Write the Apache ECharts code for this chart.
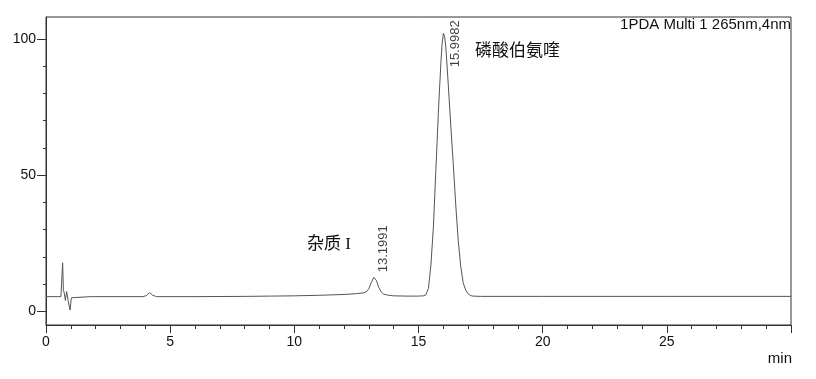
<!DOCTYPE html>
<html>
<head>
<meta charset="utf-8">
<script src="https://cdn.jsdelivr.net/npm/echarts@6/dist/echarts.min.js"></script>
<style>
html,body{margin:0;padding:0;background:#fff;}
#chart{width:816px;height:379px;}
</style>
</head>
<body>
<div id="chart"></div>
<script>
// ---- data ----
const times  = [0, 0.6, 0.64, 0.67, 0.7, 0.74, 0.78, 0.83, 0.9, 0.97, 1.02, 1.1, 1.8, 1.87, 1.92, 2.0, 3.9, 4.05, 4.17, 4.3, 4.45, 6, 8, 9, 10, 11, 12, 12.5, 12.8, 12.9, 13.0, 13.1, 13.2, 13.3, 13.4, 13.5, 13.6, 13.8, 14.0, 14.5, 15.0, 15.2, 15.3, 15.4, 15.5, 15.6, 15.7, 15.8, 15.9, 15.95, 16.0, 16.05, 16.1, 16.2, 16.3, 16.4, 16.5, 16.6, 16.7, 16.8, 16.9, 17.0, 17.1, 17.2, 17.5, 20, 25, 30];
const signal = [5.4, 5.4, 6.0, 17.8, 8.0, 6.5, 4.0, 7.3, 3.5, 0.5, 5.0, 5.4, 5.4, 5.9, 5.4, 5.4, 5.4, 5.8, 6.9, 5.9, 5.4, 5.4, 5.5, 5.6, 5.7, 5.9, 6.2, 6.5, 6.8, 7.2, 8.3, 10.6, 12.5, 11.4, 8.8, 7.1, 6.3, 5.9, 5.7, 5.6, 5.6, 5.7, 6.1, 8.5, 17, 31, 52, 73, 91, 98, 102, 101, 97, 83, 68, 54, 39, 26, 16.5, 10.5, 7.8, 6.4, 5.8, 5.6, 5.5, 5.5, 5.5, 5.5];
const peakTimes   = [13.1991, 15.9982];
const peakHeights = [12.5, 102];
const peakLabels  = ['13.1991', '15.9982'];
const xTicks      = [0, 5, 10, 15, 20, 25];
const yMajorTicks = [0, 50, 100];
const yMinorTicks = [10, 20, 30, 40, 60, 70, 80, 90];
const channelTitle = '1PDA Multi 1 265nm,4nm';
const peakNames   = ['杂质 I', '磷酸伯氨喹'];
const xUnit = 'min';

const chart = echarts.init(document.getElementById('chart'), null, {renderer: 'canvas'});
const lineData = times.map((t, i) => [t, signal[i]]);
const labelPos = [[11, -4], [13.5, 35]];
const peakData = peakTimes.map((t, i) => ({
  value: [t, peakHeights[i]],
  label: {position: labelPos[i]}
}));
const axisColor = '#333';
const textColor = '#111';
const font = '"Liberation Sans", Arial, sans-serif';

chart.setOption({
  animation: false,
  backgroundColor: '#fff',
  grid: {left: 46, right: 25, top: 17, bottom: 54, show: true, borderColor: axisColor, borderWidth: 1, containLabel: false, outerBoundsMode: 'none'},
  xAxis: {
    type: 'value', min: 0, max: 30, interval: 5,
    axisLine: {show: true, onZero: false, lineStyle: {color: axisColor, width: 1}},
    axisTick: {show: true, length: 8, lineStyle: {color: axisColor}},
    minorTick: {show: true, splitNumber: 5, length: 4, lineStyle: {color: axisColor}},
    axisLabel: {margin: 10, fontSize: 14, fontFamily: font, color: textColor,
      formatter: v => xTicks.indexOf(v) >= 0 ? String(v) : ''},
    splitLine: {show: false}
  },
  yAxis: [{
    type: 'value', min: -5, max: 108, position: 'left',
    axisLine: {show: true, onZero: false, lineStyle: {color: axisColor, width: 1}},
    axisTick: {show: true, length: 9, customValues: yMajorTicks, lineStyle: {color: axisColor}},
    axisLabel: {margin: 10, fontSize: 14, fontFamily: font, color: textColor, customValues: yMajorTicks},
    splitLine: {show: false}
  }, {
    type: 'value', min: -5, max: 108, position: 'left', offset: 0,
    axisLine: {show: false},
    axisTick: {show: true, length: 3, customValues: yMinorTicks, lineStyle: {color: axisColor}},
    axisLabel: {show: false},
    splitLine: {show: false}
  }],
  series: [{
    type: 'line', data: lineData, showSymbol: false, symbol: 'none',
    lineStyle: {color: '#555', width: 1}, silent: true
  }, {
    type: 'scatter', data: peakData, symbolSize: 2,
    itemStyle: {color: 'transparent'},
    label: {show: true, rotate: 90, align: 'left', verticalAlign: 'middle',
      fontSize: 13, fontFamily: font, color: textColor,
      formatter: p => peakLabels[p.dataIndex]}
  }],
  graphic: [
    {type: 'text', right: 25, top: 17, style: {text: channelTitle, fontSize: 15, fontFamily: font, fill: textColor}},
    {type: 'text', right: 24, top: 351, style: {text: xUnit, fontSize: 15, fontFamily: font, fill: textColor}},
    {type: 'text', left: 307, top: 236, style: {text: peakNames[0], fontSize: 17, fontFamily: '"Liberation Serif", "Noto Sans CJK SC", serif', fill: textColor}},
    {type: 'text', left: 475, top: 41, style: {text: peakNames[1], fontSize: 17, fontFamily: '"Noto Sans CJK SC", serif', fill: textColor}}
  ]
});
</script>
</body>
</html>
